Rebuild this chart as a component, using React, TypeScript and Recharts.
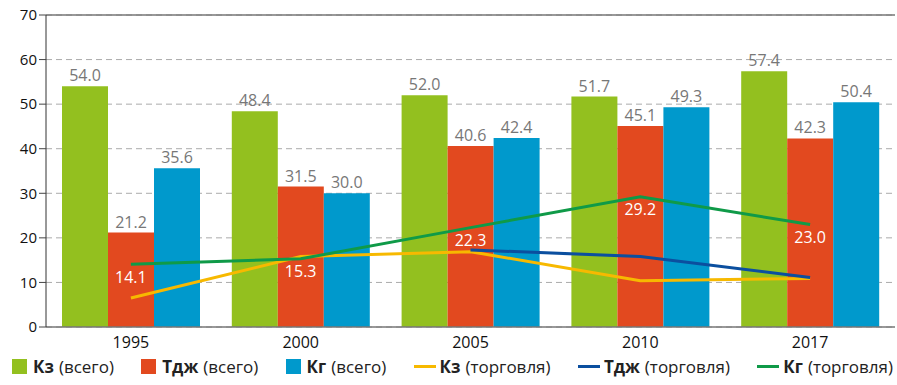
import React from "react";
import {
  ComposedChart,
  Bar,
  Line,
  XAxis,
  YAxis,
  CartesianGrid,
  ReferenceLine,
  LabelList,
  Legend,
} from "recharts";

const years = ["1995", "2000", "2005", "2010", "2017"];
const kzTotal = [54.0, 48.4, 52.0, 51.7, 57.4];
const tjTotal = [21.2, 31.5, 40.6, 45.1, 42.3];
const kgTotal = [35.6, 30.0, 42.4, 49.3, 50.4];
const kzTrade = [6.5, 15.8, 16.9, 10.4, 10.9];
const tjTrade = [null, null, 17.3, 15.8, 11.1];
const kgTrade = [14.1, 15.3, 22.3, 29.2, 23.0];
const yTicks = [0, 10, 20, 30, 40, 50, 60, 70];

const data = years.map((year, i) => ({
  year,
  kzTotal: kzTotal[i],
  tjTotal: tjTotal[i],
  kgTotal: kgTotal[i],
  kzTrade: kzTrade[i],
  tjTrade: tjTrade[i],
  kgTrade: kgTrade[i],
}));

const GREEN = "#93c01f";
const RED = "#e2491f";
const BLUE = "#0099cc";
const YELLOW = "#f7b900";
const NAVY = "#0b4f9f";
const DKGREEN = "#0f9a48";
const FONT = "'Open Sans', sans-serif";

const legendItems = [
  { bold: "Кз", rest: "(всего)", color: GREEN, kind: "bar" },
  { bold: "Тдж", rest: "(всего)", color: RED, kind: "bar" },
  { bold: "Кг", rest: "(всего)", color: BLUE, kind: "bar" },
  { bold: "Кз", rest: "(торговля)", color: YELLOW, kind: "line" },
  { bold: "Тдж", rest: "(торговля)", color: NAVY, kind: "line" },
  { bold: "Кг", rest: "(торговля)", color: DKGREEN, kind: "line" },
];

function LegendBox() {
  return (
    <div
      style={{
        display: "flex",
        justifyContent: "space-between",
        padding: "0 2px 0 12px",
        fontFamily: FONT,
        fontSize: 17,
        color: "#222",
        alignItems: "center",
        whiteSpace: "nowrap",
      }}
    >
      {legendItems.map((it, i) => (
        <div key={i} style={{ display: "flex", alignItems: "center" }}>
          {it.kind === "bar" ? (
            <span style={{ width: 15, height: 15, background: it.color, marginRight: 6 }} />
          ) : (
            <span style={{ width: 22, height: 3, background: it.color, marginRight: 4 }} />
          )}
          <b>{it.bold}</b>
          <span style={{ marginLeft: 5 }}>{it.rest}</span>
        </div>
      ))}
    </div>
  );
}

const fmt = (v: any) => (v == null ? "" : Number(v).toFixed(1));

export default function App() {
  return (
    <div style={{ position: "absolute", left: 0, top: 0, background: "#fff" }}>
      <ComposedChart
        width={897}
        height={385}
        data={data}
        margin={{ top: 15, right: 2, left: 0, bottom: 0 }}
        barCategoryGap={16}
        barGap={0}
      >
        <CartesianGrid vertical={false} stroke="#aaa" strokeDasharray="6 4" />
        <XAxis
          dataKey="year"
          tickLine={false}
          axisLine={{ stroke: "#777", strokeWidth: 1.5 }}
          tick={{ fill: "#111", fontSize: 16, fontFamily: FONT }}
          height={28}
          dy={2}
        />
        <XAxis
          xAxisId="edges"
          type="number"
          domain={[0, 5]}
          ticks={[0, 1, 2, 3, 4, 5]}
          tick={() => <g />}
          tickLine={{ stroke: "#444" }}
          tickSize={7}
          axisLine={false}
          height={0}
        />
        <YAxis
          domain={[0, 70]}
          ticks={yTicks}
          width={46}
          tickSize={7}
          tickLine={{ stroke: "#444" }}
          axisLine={{ stroke: "#333" }}
          tick={{ fill: "#111", fontSize: 15, fontFamily: FONT }}
        />
        <ReferenceLine y={70} stroke="#777" strokeWidth={1.5} />
        <ReferenceLine xAxisId="edges" x={5} stroke="#777" strokeWidth={1.5} />
        <Bar dataKey="kzTotal" fill={GREEN} isAnimationActive={false}>
          <LabelList dataKey="kzTotal" position="top" offset={5} formatter={fmt} fill="#777" fontSize={16} fontFamily={FONT} />
        </Bar>
        <Bar dataKey="tjTotal" fill={RED} isAnimationActive={false}>
          <LabelList dataKey="tjTotal" position="top" offset={5} formatter={fmt} fill="#777" fontSize={16} fontFamily={FONT} />
        </Bar>
        <Bar dataKey="kgTotal" fill={BLUE} isAnimationActive={false}>
          <LabelList dataKey="kgTotal" position="top" offset={5} formatter={fmt} fill="#777" fontSize={16} fontFamily={FONT} />
        </Bar>
        <Line dataKey="kzTrade" stroke={YELLOW} strokeWidth={3} dot={false} type="linear" isAnimationActive={false} />
        <Line dataKey="tjTrade" stroke={NAVY} strokeWidth={3} dot={false} type="linear" isAnimationActive={false} />
        <Line dataKey="kgTrade" stroke={DKGREEN} strokeWidth={3} dot={false} type="linear" isAnimationActive={false}>
          <LabelList dataKey="kgTrade" position="bottom" offset={7} formatter={fmt} fill="#fff" fontSize={16} fontFamily={FONT} />
        </Line>
        <Legend verticalAlign="bottom" height={30} content={() => <LegendBox />} />
      </ComposedChart>
    </div>
  );
}
